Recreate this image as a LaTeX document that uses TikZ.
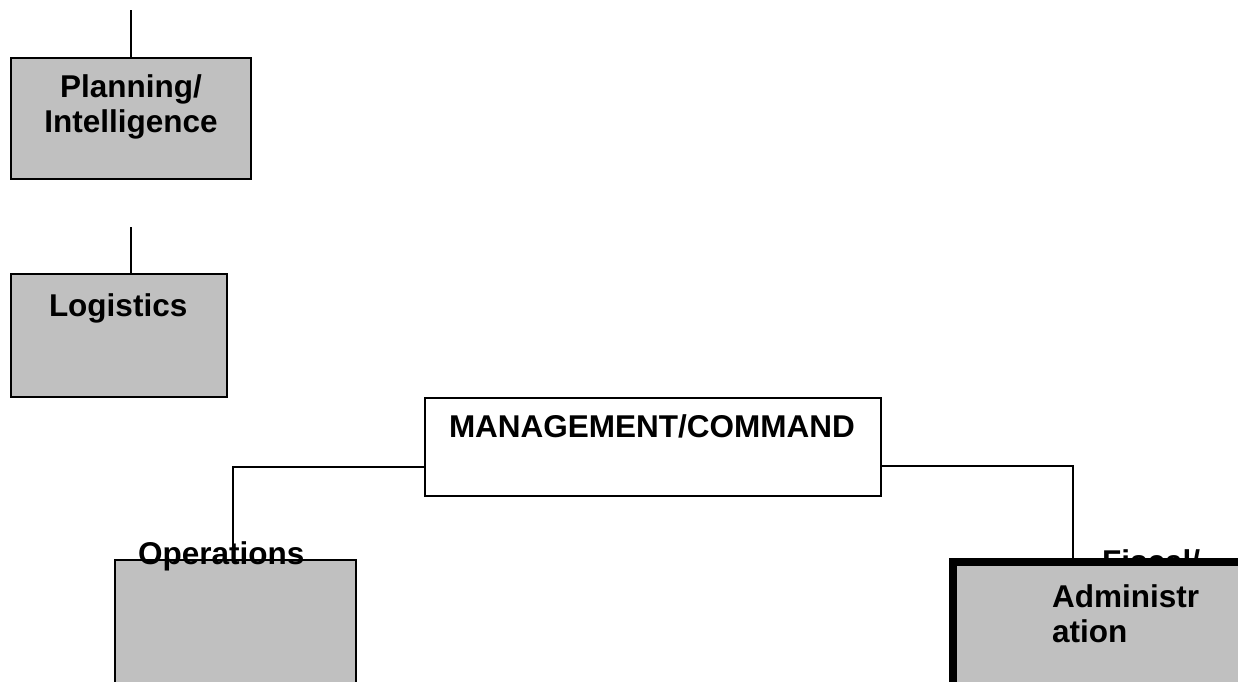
\documentclass[tikz,border=0pt]{standalone}
\usepackage{fontspec}
\setmainfont{Liberation Sans}
\begin{document}
\begin{tikzpicture}[x=1pt,y=-1pt,
  unit/.style={draw=black, line width=1.6pt, fill=boxgray, rectangle,
    inner sep=0pt, outer sep=0pt},
  headbox/.style={draw=black, line width=1.6pt, fill=white, rectangle,
    inner sep=0pt, outer sep=0pt},
  label/.style={inner sep=0pt, outer sep=0pt, font=\fontsize{31.5}{35}\selectfont\bfseries},
  link/.style={draw=black, line width=1.6pt}]
\definecolor{boxgray}{HTML}{C0C0C0}
\useasboundingbox (0,0) rectangle (1238,681);
\clip (0,0) rectangle (1238,681);

% Planning / Intelligence section
\node[unit, minimum width=240pt, minimum height=121pt] (plan) at (131,118.5) {};
\node[label, align=center, anchor=base] (plantxt) at (131,132) {Planning/\\Intelligence};
\coordinate (plantop) at (131,10);
\draw[link] (plantop) -- (plan.north);

% Logistics section
\node[unit, minimum width=216pt, minimum height=123pt] (logi) at (119,335.5) {};
\node[label, anchor=base west] (logitxt) at (49,316) {Logistics};
\coordinate (logitop) at (131,227);
\draw[link] (logitop) -- (logitop |- logi.north);

% Management / Command
\node[headbox, minimum width=456pt, minimum height=98pt] (mgmt) at (653,447) {};
\node[label, anchor=base west] (mgmttxt) at (449,437) {MANAGEMENT/COMMAND};

% Operations
\node[unit, minimum width=241pt, minimum height=160pt] (ops) at (235.5,640) {};
\node[label, anchor=base west] (opstxt) at (138,564) {Operations};

% Fiscal / Administration (heavy border, first line partly behind the box)
\node[label, anchor=base west] (fisctxt1) at (1102,572) {Fiscal/};
\node[unit, line width=8pt, minimum width=320pt, minimum height=180pt] (fisc) at (1113,652) {};
\node[label, anchor=base west] (fisctxt2) at (1052,607) {Administr};
\node[label, anchor=base west] (fisctxt3) at (1052,642) {ation};

% Connectors from the command box
\coordinate (lhook) at (233,467);
\coordinate (rhook) at (1073,466);
\draw[link] (mgmt.west |- lhook) -| (ops.north -| lhook);
\draw[link] (mgmt.east |- rhook) -| (fisc.north -| rhook);
\end{tikzpicture}
\end{document}
